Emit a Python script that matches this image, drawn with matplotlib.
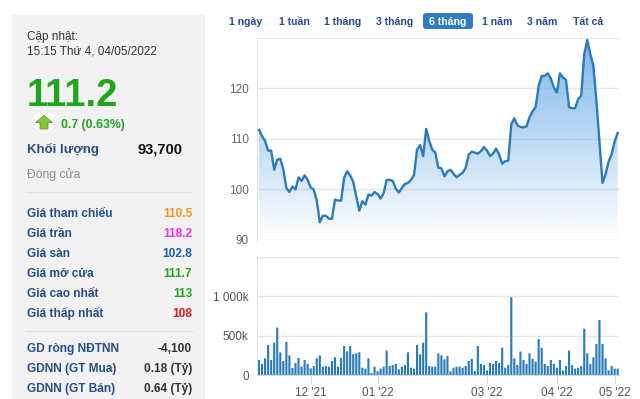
import numpy as np
import matplotlib.pyplot as plt
from matplotlib.patches import Polygon, Rectangle, FancyBboxPatch

plt.rcParams['font.family'] = ['Liberation Sans', 'DejaVu Sans']

# closing price, one value per trading day (6 months)
price = [111.8, 110.6, 109.6, 107.7, 107.7, 103.9, 105.9, 106.1, 104.0, 100.3,
         99.5, 100.6, 100.0, 102.4, 101.7, 102.8, 101.9, 100.4, 100.0, 97.8,
         93.5, 94.8, 94.8, 94.2, 94.2, 98.0, 97.8, 97.8, 102.3, 103.6,
         102.8, 101.5, 98.6, 95.8, 97.7, 97.0, 99.0, 98.8, 99.5, 99.1,
         98.2, 99.3, 101.9, 101.9, 101.7, 100.2, 99.4, 100.3, 101.1, 101.3,
         101.9, 102.9, 107.9, 108.8, 106.6, 112.0, 109.6, 107.9, 107.3, 104.3,
         104.2, 102.6, 103.6, 103.9, 103.1, 102.4, 102.9, 103.3, 104.3, 106.9,
         107.5, 107.3, 107.1, 107.6, 108.4, 107.7, 106.6, 107.1, 108.1, 106.9,
         105.1, 105.6, 105.7, 112.9, 114.1, 112.7, 112.4, 112.3, 112.5, 114.3,
         115.5, 116.3, 120.5, 122.5, 122.5, 123.0, 122.0, 120.2, 119.2, 123.0,
         122.2, 121.7, 116.3, 116.1, 116.1, 117.9, 118.6, 126.8, 129.6, 126.8,
         124.5, 117.5, 109.5, 101.3, 103.0, 105.5, 107.0, 109.5, 111.2]

# traded volume in thousands of shares
volume_k = [191, 140, 212, 382, 191, 411, 602, 288, 178, 420,
            250, 89, 153, 216, 106, 191, 140, 85, 114, 212,
            250, 106, 114, 106, 178, 225, 106, 216, 369, 301,
            369, 267, 276, 288, 93, 81, 212, 25, 106, 47,
            81, 106, 310, 114, 127, 140, 72, 106, 127, 288,
            93, 81, 382, 263, 411, 797, 114, 106, 106, 276,
            250, 199, 242, 47, 93, 106, 106, 93, 114, 178,
            204, 51, 369, 140, 127, 59, 153, 140, 178, 153,
            348, 93, 127, 988, 212, 127, 297, 191, 140, 276,
            204, 170, 458, 348, 140, 114, 191, 140, 93, 191,
            59, 114, 310, 127, 81, 93, 114, 589, 276, 140,
            225, 394, 700, 394, 212, 59, 114, 81, 81]

month_idx = [17, 39, 75, 98, 117]
month_labels = ["12 '21", "01 '22", "03 '22", "04 '22", "05 '22"]
price_ticks = [90, 100, 110, 120, 130]
price_tick_labels = ["90", "100", "110", "120", ""]
vol_ticks = [0, 500, 1000, 1500]
vol_tick_labels = ["0", "500k", "1 000k", ""]

buttons = ["1 ngày", "1 tuần", "1 tháng", "3 tháng", "6 tháng", "1 năm", "3 năm", "Tất cả"]
selected = "6 tháng"

info_labels = ["Giá tham chiếu", "Giá trần", "Giá sàn", "Giá mở cửa", "Giá cao nhất", "Giá thấp nhất"]
info_values = ["110.5", "118.2", "102.8", "111.7", "113", "108"]
info_colors = ["#f7941d", "#ee33ee", "#1d60ad", "#22a622", "#22a622", "#e5141c"]

foreign_labels = ["GD ròng NĐTNN", "GDNN (GT Mua)", "GDNN (GT Bán)"]
foreign_values = ["-4,100", "0.18 (Tỷ)", "0.64 (Tỷ)"]

navy = "#264d8c"
line_blue = "#2b7bba"

fig = plt.figure(figsize=(6.4, 3.99), dpi=100)

# background layer in pixel coordinates for the info panel and buttons
bg = fig.add_axes([0, 0, 1, 1])
bg.set_xlim(0, 640)
bg.set_ylim(399, 0)
bg.axis('off')

bg.add_patch(Rectangle((11.5, 15), 193.5, 384, color="#f2f2f2", lw=0))
bg.text(27, 40, "Cập nhật:", fontsize=8.5, color="#333333")
bg.text(27, 55, "15:15 Thứ 4, 04/05/2022", fontsize=8.5, color="#333333")
bg.text(26.5, 106, "111.2", fontsize=27.5, fontweight='bold', color="#1ea61e")

bg.add_patch(Rectangle((35, 115), 18, 15, color="white", lw=0))
bg.add_patch(Polygon([(44, 115.5), (52.5, 122.5), (48, 122.5), (48, 129),
                      (40, 129), (40, 122.5), (35.5, 122.5)],
                     closed=True, facecolor="#86c73a", edgecolor="#5f9e26", lw=0.6))
bg.text(61, 128, "0.7 (0.63%)", fontsize=8.8, fontweight='bold', color="#1ea61e")

bg.text(27, 153, "Khối lượng", fontsize=9.5, fontweight='bold', color=navy)
bg.text(183, 153, "93,700", fontsize=10.5, fontweight='bold', color="#111111", ha='right')
bg.text(27, 178, "Đóng cửa", fontsize=8.7, color="#8a8a8a")
bg.plot([26, 192], [192, 192], color="#e2e2e2", lw=1)

for i, (lab, val, col) in enumerate(zip(info_labels, info_values, info_colors)):
    yb = 216.7 + i * 20
    bg.text(27, yb, lab, fontsize=8.6, fontweight='bold', color=navy)
    bg.text(192, yb, val, fontsize=8.6, fontweight='bold', color=col, ha='right')

bg.plot([26, 192], [331, 331], color="#e2e2e2", lw=1)

for i, (lab, val) in enumerate(zip(foreign_labels, foreign_values)):
    yb = 351.7 + i * 20
    bg.text(27, yb, lab, fontsize=8.6, fontweight='bold', color=navy)
    bg.text(192, yb, val, fontsize=8.6, fontweight='bold', color="#333333", ha='right')

# range selector buttons
btn_x = [246, 294, 343, 395, 448, 497, 542, 588]
for name, bx in zip(buttons, btn_x):
    if name == selected:
        bg.add_patch(FancyBboxPatch((423, 13), 50, 16,
                                    boxstyle="round,pad=0,rounding_size=3",
                                    fc="#2f7cc0", ec="none"))
        bg.text(bx, 25, name, fontsize=7.6, fontweight='bold', color="white", ha='center')
    else:
        bg.text(bx, 25, name, fontsize=7.6, fontweight='bold', color=navy, ha='center')

x = np.arange(len(price))
xlo, xhi = -0.66, 118.43

# price chart
ax_p = fig.add_axes([257 / 640, 1 - 240 / 399, 362 / 640, 202 / 399])
grad = np.zeros((256, 1, 4))
grad[:, 0, 0] = 124 / 255
grad[:, 0, 1] = 181 / 255
grad[:, 0, 2] = 236 / 255
grad[:, 0, 3] = np.linspace(1.0, 0.0, 256)
im = ax_p.imshow(grad, extent=[xlo, xhi, 90, 130], aspect='auto', origin='upper', zorder=1)
verts = [(x[0], 90)] + list(zip(x, price)) + [(x[-1], 90)]
clip = Polygon(verts, closed=True, facecolor='none', edgecolor='none')
ax_p.add_patch(clip)
im.set_clip_path(clip)
ax_p.plot(x, price, color=line_blue, lw=1.7, zorder=3, solid_joinstyle='round')
ax_p.set_xlim(xlo, xhi)
ax_p.set_ylim(90, 130)
ax_p.set_yticks(price_ticks)
ax_p.set_yticklabels(price_tick_labels)
ax_p.set_xticks([])
ax_p.yaxis.grid(True, color="#e6e6e6", lw=1)
ax_p.set_axisbelow(True)
ax_p.tick_params(axis='y', length=0, pad=6, labelsize=8.5, labelcolor="#666666")
for s in ['top', 'right', 'bottom']:
    ax_p.spines[s].set_visible(False)
ax_p.spines['left'].set_color("#dde5f0")

# volume chart
ax_v = fig.add_axes([257 / 640, 1 - 375 / 399, 362 / 640, 118 / 399])
bars = ax_v.bar(x, volume_k, width=0.7, color="#2b7bb8", zorder=2)
for b in bars:
    b.set_snap(False)
ax_v.set_xlim(xlo, xhi)
ax_v.set_ylim(0, 1500)
ax_v.set_yticks(vol_ticks)
ax_v.set_yticklabels(vol_tick_labels)
ax_v.set_xticks(month_idx)
ax_v.set_xticklabels(month_labels)
ax_v.yaxis.grid(True, color="#e6e6e6", lw=1)
ax_v.set_axisbelow(True)
ax_v.tick_params(axis='y', length=0, pad=6, labelsize=8.5, labelcolor="#555555")
ax_v.tick_params(axis='x', length=6, color="#ccd6eb", pad=3, labelsize=8.5, labelcolor="#555555")
for s in ['top', 'right']:
    ax_v.spines[s].set_visible(False)
ax_v.spines['left'].set_color("#dde5f0")
ax_v.spines['bottom'].set_color("#ccd6eb")

fig.savefig("out.png", dpi=100)
